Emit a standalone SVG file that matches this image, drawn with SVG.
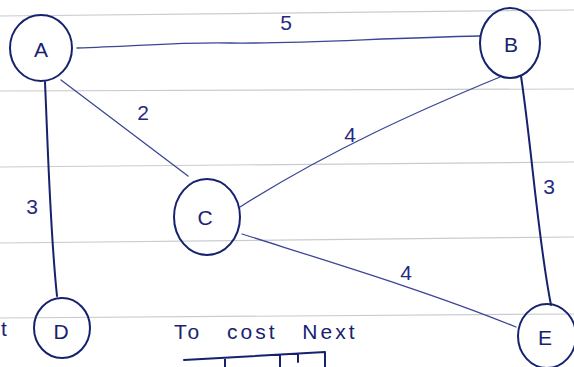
<svg xmlns="http://www.w3.org/2000/svg" width="574" height="367" viewBox="0 0 574 367">
<style>
.rule{stroke:#c9cbd0;stroke-width:1.2;fill:none}
.node{fill:none;stroke:#17226f;stroke-width:2}
.lbl{font-family:"Liberation Sans",Arial,sans-serif;font-size:21px;fill:#17226f;text-anchor:middle;dominant-baseline:central}
.edge{fill:none;stroke:#3b4694;stroke-width:1.3;stroke-linecap:round}
.edge.bold{stroke:#17226f;stroke-width:2}
.w{font-family:"Liberation Sans",Arial,sans-serif;font-size:21px;fill:#1f2a80;text-anchor:middle;dominant-baseline:central}
.note{font-family:"Liberation Sans",Arial,sans-serif;font-size:21px;fill:#17226f}
</style>
<rect width="574" height="367" fill="#ffffff"/>
<g id="paper">
<line class="rule" x1="0" y1="16" x2="574" y2="10"/>
<line class="rule" x1="0" y1="91" x2="574" y2="89"/>
<line class="rule" x1="0" y1="167" x2="574" y2="162"/>
<line class="rule" x1="0" y1="243" x2="574" y2="237"/>
<line class="rule" x1="0" y1="318" x2="574" y2="314"/>
</g>
<g id="connectors">
<path id="e-AB" class="edge" d="M77,48 C140,46 180,42 230,43 C300,44 380,38 480,36"/>
<path id="e-AC" class="edge" d="M61,80 L188,176"/>
<path id="e-AD" class="edge bold" d="M45,82 C48,150 50,230 57,296"/>
<path id="e-BC" class="edge" d="M500,77 C420,110 330,150 240,207"/>
<path id="e-BE" class="edge bold" d="M521,76 C532,150 538,240 551,305"/>
<path id="e-CE" class="edge" d="M242,234 C330,262 430,292 516,327"/>
<text class="w" x="286" y="22">5</text>
<text class="w" x="143" y="112">2</text>
<text class="w" x="350" y="134">4</text>
<text class="w" x="32" y="206">3</text>
<text class="w" x="549" y="186">3</text>
<text class="w" x="406" y="272">4</text>
</g>
<g id="node-A"><ellipse class="node" cx="41" cy="48" rx="31" ry="33"/><text class="lbl" x="41" y="49">A</text></g>
<g id="node-B"><ellipse class="node" cx="510" cy="43" rx="30" ry="35"/><text class="lbl" x="511" y="44">B</text></g>
<g id="node-C"><ellipse class="node" cx="207" cy="217" rx="33" ry="38"/><text class="lbl" x="205" y="217">C</text></g>
<g id="node-D"><ellipse class="node" cx="62" cy="328" rx="28" ry="30"/><text class="lbl" x="61" y="331">D</text></g>
<g id="node-E"><ellipse class="node" cx="547" cy="336" rx="29" ry="32"/><text class="lbl" x="545" y="337">E</text></g>
<g id="notes">
<text class="note" x="1" y="336" font-size="16">t</text>
<text class="note" x="174" y="339" letter-spacing="3" word-spacing="16">To cost Next</text>
<path class="edge bold" d="M184,360 L325,352 M225,359 L225,367 M280,356 L280,367 M298,355 L298,362 M325,352 L325,367" stroke-width="1.6"/>
</g>
</svg>
